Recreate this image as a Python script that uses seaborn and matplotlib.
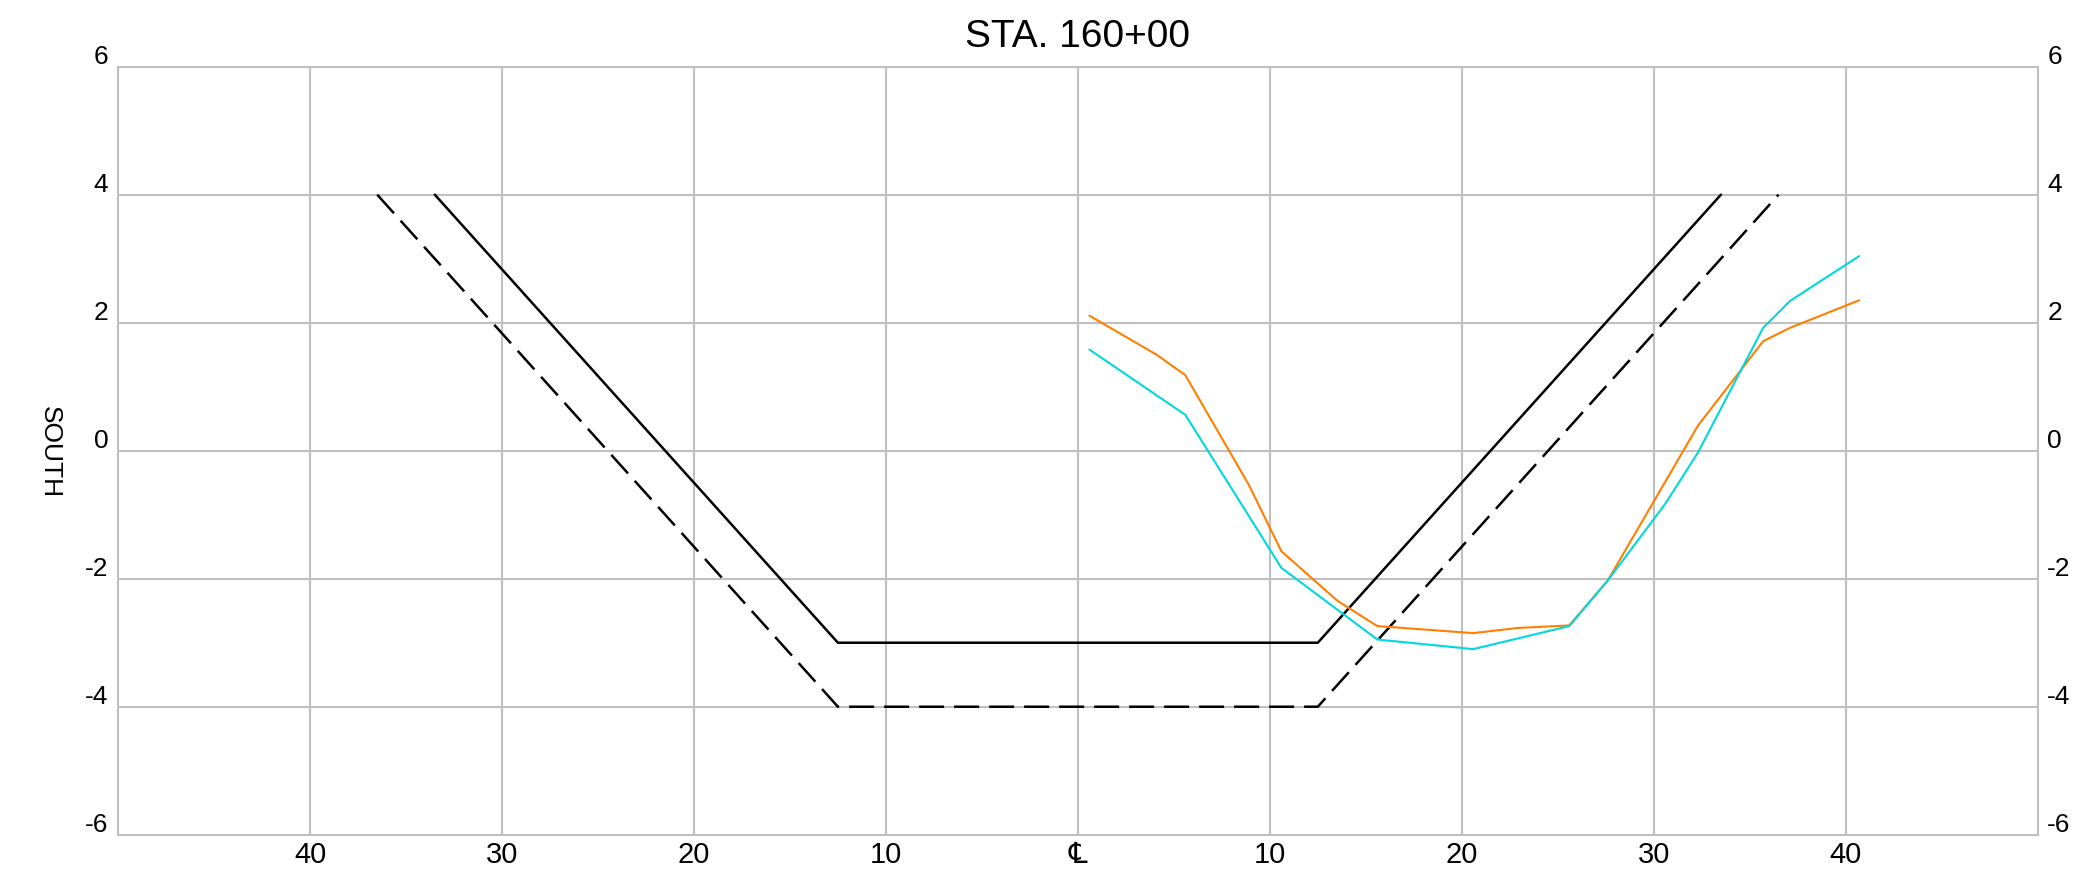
import numpy as np
import pandas as pd
import seaborn as sns
import matplotlib.pyplot as plt
from matplotlib.transforms import ScaledTranslation

# design template (solid) and overdepth template (dashed), offset from centerline in ft
template_x = [-33.5, -12.5, 12.5, 33.5]
template_y = [4, -3, -3, 4]
overdepth_x = [-36.5, -12.5, 12.5, 36.5]
overdepth_y = [4, -4, -4, 4]

orange_x = [0.6, 4.1, 5.6, 8.9, 10.6, 13.5, 15.6, 20.6, 22.9, 25.6, 27.6, 32.3, 35.7, 37.1, 40.7]
orange_y = [2.11, 1.50, 1.18, -0.53, -1.57, -2.34, -2.74, -2.85, -2.77, -2.73, -2.03, 0.39, 1.71, 1.92, 2.35]
cyan_x = [0.6, 5.6, 10.6, 15.6, 20.6, 25.6, 27.6, 30.6, 32.3, 35.7, 37.1, 40.7]
cyan_y = [1.58, 0.56, -1.83, -2.95, -3.10, -2.74, -2.03, -0.83, -0.03, 1.92, 2.34, 3.04]

x_ticks = [-40, -30, -20, -10, 0, 10, 20, 30, 40]
x_labels = ['40', '30', '20', '10', '\u2104', '10', '20', '30', '40']
y_ticks = [-6, -4, -2, 0, 2, 4, 6]

sns.set_theme(style='whitegrid')
plt.rcParams['font.family'] = ['Liberation Sans', 'DejaVu Sans']
plt.rcParams['text.color'] = 'black'
plt.rcParams['axes.labelcolor'] = 'black'

fig, ax = plt.subplots(figsize=(20.75, 8.87), dpi=100)
fig.subplots_adjust(left=0.0569, right=0.982, bottom=0.0578, top=0.9237)

sns.lineplot(x=template_x, y=template_y, ax=ax, color='black', linewidth=1.8,
             sort=False, estimator=None)
sns.lineplot(x=overdepth_x, y=overdepth_y, ax=ax, color='black', linewidth=1.8,
             linestyle=(0, (10, 4)), sort=False, estimator=None)
sns.lineplot(x=orange_x, y=orange_y, ax=ax, color='#ff7f00', linewidth=1.5,
             sort=False, estimator=None)
sns.lineplot(x=cyan_x, y=cyan_y, ax=ax, color='#00d8dc', linewidth=1.5,
             sort=False, estimator=None)

ax.set_xlim(-50, 50)
ax.set_ylim(-6, 6)
ax.set_xticks(x_ticks)
ax.set_xticklabels(x_labels)
ax.set_yticks(y_ticks)
ax.set_yticklabels([str(v) for v in y_ticks])

ax.grid(True, color='#c0c0c0', linewidth=1.5)
for sp in ax.spines.values():
    sp.set_color('#c0c0c0')
    sp.set_linewidth(1.5)

ax.tick_params(axis='x', length=0, labelsize=21, pad=4, colors='black')
ax.tick_params(axis='y', length=0, labelleft=True, labelright=True,
               labelsize=19, pad=7, colors='black')

# y labels sit just above their gridlines
shift = ScaledTranslation(0, 13.5 / 100, fig.dpi_scale_trans)
for t in ax.yaxis.get_major_ticks():
    t.label1.set_transform(t.label1.get_transform() + shift)
    t.label2.set_transform(t.label2.get_transform() + shift)

ax.set_title('STA. 160+00', fontsize=28, pad=15, color='black')
ax.set_ylabel('SOUTH', fontsize=19, rotation=270, ha='center', va='center')
ax.yaxis.set_label_coords(-0.0354, 0.5)

plt.savefig('out.png', dpi=100)
